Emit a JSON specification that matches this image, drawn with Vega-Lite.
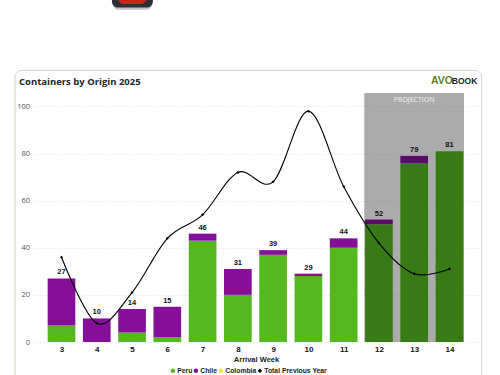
{
"$schema":"https://vega.github.io/schema/vega-lite/v6.json",
"width":445,"height":249,
"autosize":"none",
"padding":{"left":33.5,"top":93,"right":21.5,"bottom":33},
"background":"white",
"view":{"stroke":null},
"title":{"text":"Containers by Origin 2025","anchor":"start","frame":"group","dx":-14.5,"offset":-103,"font":"Open Sans","fontSize":9.5,"fontWeight":"bold","color":"#262626"},
"datasets":{
"stack":[
{"week":3,"origin":"Peru","rank":1,"containers":7},{"week":3,"origin":"Chile","rank":2,"containers":20},
{"week":4,"origin":"Peru","rank":1,"containers":0},{"week":4,"origin":"Chile","rank":2,"containers":10},
{"week":5,"origin":"Peru","rank":1,"containers":4},{"week":5,"origin":"Chile","rank":2,"containers":10},
{"week":6,"origin":"Peru","rank":1,"containers":2},{"week":6,"origin":"Chile","rank":2,"containers":13},
{"week":7,"origin":"Peru","rank":1,"containers":43},{"week":7,"origin":"Chile","rank":2,"containers":3},
{"week":8,"origin":"Peru","rank":1,"containers":20},{"week":8,"origin":"Chile","rank":2,"containers":11},
{"week":9,"origin":"Peru","rank":1,"containers":37},{"week":9,"origin":"Chile","rank":2,"containers":2},
{"week":10,"origin":"Peru","rank":1,"containers":28},{"week":10,"origin":"Chile","rank":2,"containers":1},
{"week":11,"origin":"Peru","rank":1,"containers":40},{"week":11,"origin":"Chile","rank":2,"containers":4},
{"week":12,"origin":"Peru","rank":1,"containers":50},{"week":12,"origin":"Chile","rank":2,"containers":2},
{"week":13,"origin":"Peru","rank":1,"containers":76},{"week":13,"origin":"Chile","rank":2,"containers":3},
{"week":14,"origin":"Peru","rank":1,"containers":81},{"week":14,"origin":"Chile","rank":2,"containers":0}
],
"totals":[
{"week":3,"total":27,"previous":36,"origin":"Total Previous Year"},{"week":4,"total":10,"previous":8,"origin":"Total Previous Year"},
{"week":5,"total":14,"previous":21,"origin":"Total Previous Year"},{"week":6,"total":15,"previous":44,"origin":"Total Previous Year"},
{"week":7,"total":46,"previous":54,"origin":"Total Previous Year"},{"week":8,"total":31,"previous":72,"origin":"Total Previous Year"},
{"week":9,"total":39,"previous":68,"origin":"Total Previous Year"},{"week":10,"total":29,"previous":98,"origin":"Total Previous Year"},
{"week":11,"total":44,"previous":66,"origin":"Total Previous Year"},{"week":12,"total":52,"previous":42,"origin":"Total Previous Year"},
{"week":13,"total":79,"previous":29,"origin":"Total Previous Year"},{"week":14,"total":81,"previous":31,"origin":"Total Previous Year"}
]
},
"layer":[
{"data":{"values":[{"from":1.6815,"to":14.913,"low":-18.3,"high":115.3}]},
 "mark":{"type":"rect","fill":"transparent","stroke":"#c8d8c4","strokeWidth":1,"cornerRadius":7},
 "encoding":{
  "x":{"field":"from","type":"quantitative","scale":{"domain":[2.206,14.823],"nice":false,"zero":false,"padding":0},
    "axis":{"values":[3,4,5,6,7,8,9,10,11,12,13,14],"grid":false,"domain":false,"ticks":false,"labelFont":"Liberation Sans","labelFontWeight":"bold","labelFontSize":8,"labelColor":"#111111","labelPadding":3,"format":"d","title":"Arrival Week","titleFont":"Liberation Sans","titleFontWeight":"bold","titleFontSize":7.5,"titleColor":"#222222","titlePadding":2}},
  "x2":{"field":"to"},
  "y":{"field":"low","type":"quantitative","scale":{"domain":[0,105.7],"nice":false,"padding":0},
    "axis":{"values":[0,20,40,60,80,100],"grid":true,"gridColor":"#dddddd","gridDash":[1,2],"gridWidth":0.8,"domain":false,"ticks":false,"labelFont":"Open Sans","labelFontSize":7.5,"labelColor":"#555555","labelPadding":4,"title":null}},
  "y2":{"field":"high"}}},
{"data":{"name":"stack"},
 "mark":{"type":"bar","width":27.7,"orient":"vertical"},
 "encoding":{
  "x":{"field":"week","type":"quantitative","scale":{"domain":[2.206,14.823],"nice":false,"zero":false,"padding":0}},
  "y":{"field":"containers","type":"quantitative","stack":"zero","scale":{"domain":[0,105.7],"nice":false,"padding":0}},
  "order":{"field":"rank"},
  "color":{"field":"origin","type":"nominal","scale":{"domain":["Peru","Chile","Colombia","Total Previous Year"],"range":["#54b81e","#860f9a","#f5e642","#000000"]},"legend":{"orient":"none","legendX":136,"legendY":274,"direction":"horizontal","title":null,"labelFont":"Liberation Sans","labelFontWeight":"bold","labelFontSize":6.8,"labelColor":"#222222","symbolSize":20,"columnPadding":0,"labelOffset":1,"symbolStrokeWidth":0}}}},
{"data":{"values":[{"from":11.585,"to":14.412,"low":0,"high":105.7}]},
 "mark":{"type":"rect","fill":"#000000","opacity":0.33},
 "encoding":{"x":{"field":"from","type":"quantitative","scale":{"domain":[2.206,14.823],"nice":false,"zero":false,"padding":0}},"x2":{"field":"to"},"y":{"field":"low","type":"quantitative","scale":{"domain":[0,105.7],"nice":false,"padding":0}},"y2":{"field":"high"}}},
{"data":{"name":"totals"},
 "mark":{"type":"line","interpolate":"cardinal","color":"#000000","strokeWidth":1.1},
 "encoding":{"x":{"field":"week","type":"quantitative","scale":{"domain":[2.206,14.823],"nice":false,"zero":false,"padding":0}},"y":{"field":"previous","type":"quantitative","scale":{"domain":[0,105.7],"nice":false,"padding":0}}}},
{"data":{"name":"totals"},
 "mark":{"type":"point","filled":true,"size":9,"opacity":1},
 "encoding":{"x":{"field":"week","type":"quantitative","scale":{"domain":[2.206,14.823],"nice":false,"zero":false,"padding":0}},"y":{"field":"previous","type":"quantitative","scale":{"domain":[0,105.7],"nice":false,"padding":0}},
  "shape":{"field":"origin","type":"nominal","scale":{"domain":["Peru","Chile","Colombia","Total Previous Year"],"range":["circle","circle","circle","diamond"]},"legend":{"orient":"none","legendX":136,"legendY":274,"direction":"horizontal","title":null,"labelFont":"Liberation Sans","labelFontWeight":"bold","labelFontSize":6.8,"labelColor":"#222222","symbolSize":20,"columnPadding":0,"labelOffset":1,"symbolStrokeWidth":0}},
  "color":{"field":"origin","type":"nominal","legend":{"orient":"none","legendX":136,"legendY":274,"direction":"horizontal","title":null,"labelFont":"Liberation Sans","labelFontWeight":"bold","labelFontSize":6.8,"labelColor":"#222222","symbolSize":20,"columnPadding":0,"labelOffset":1,"symbolStrokeWidth":0}}}},
{"data":{"name":"totals"},
 "mark":{"type":"text","font":"Liberation Sans","fontWeight":"bold","fontSize":7.5,"color":"#111111","dy":-6},
 "encoding":{"x":{"field":"week","type":"quantitative","scale":{"domain":[2.206,14.823],"nice":false,"zero":false,"padding":0}},"y":{"field":"total","type":"quantitative","scale":{"domain":[0,105.7],"nice":false,"padding":0}},"text":{"field":"total","type":"quantitative"}}},
{"data":{"values":[{"week":13,"level":102.8,"label":"PROJECTION"}]},
 "mark":{"type":"text","font":"Open Sans","fontSize":7,"color":"#f4f4f4"},
 "encoding":{"x":{"field":"week","type":"quantitative","scale":{"domain":[2.206,14.823],"nice":false,"zero":false,"padding":0}},"y":{"field":"level","type":"quantitative","scale":{"domain":[0,105.7],"nice":false,"padding":0}},"text":{"field":"label"}}},
{"data":{"values":[{"week":14.1,"level":109.5,"label":"AVO"}]},
 "mark":{"type":"text","font":"Liberation Sans","fontWeight":"bold","fontSize":10.5,"color":"#5c7f2a","align":"right","baseline":"alphabetic"},
 "encoding":{"x":{"field":"week","type":"quantitative","scale":{"domain":[2.206,14.823],"nice":false,"zero":false,"padding":0}},"y":{"field":"level","type":"quantitative","scale":{"domain":[0,105.7],"nice":false,"padding":0}},"text":{"field":"label"}}},
{"data":{"values":[{"week":14.79,"level":109.5,"label":"BOOK"}]},
 "mark":{"type":"text","font":"Liberation Sans","fontWeight":"bold","fontSize":8.5,"color":"#1d1d1d","align":"right","baseline":"alphabetic"},
 "encoding":{"x":{"field":"week","type":"quantitative","scale":{"domain":[2.206,14.823],"nice":false,"zero":false,"padding":0}},"y":{"field":"level","type":"quantitative","scale":{"domain":[0,105.7],"nice":false,"padding":0}},"text":{"field":"label"}}},
{"data":{"values":[{"from":4.45,"to":5.57,"low":141,"high":152}]},
 "mark":{"type":"rect","fill":"#777777","opacity":0.45,"cornerRadius":6},
 "encoding":{"x":{"field":"from","type":"quantitative","scale":{"domain":[2.206,14.823],"nice":false,"zero":false,"padding":0}},"x2":{"field":"to"},"y":{"field":"low","type":"quantitative","scale":{"domain":[0,105.7],"nice":false,"padding":0}},"y2":{"field":"high"}}},
{"data":{"values":[{"from":4.43,"to":5.59,"low":142,"high":152}]},
 "mark":{"type":"rect","fill":"#2e2e38","cornerRadius":6},
 "encoding":{"x":{"field":"from","type":"quantitative","scale":{"domain":[2.206,14.823],"nice":false,"zero":false,"padding":0}},"x2":{"field":"to"},"y":{"field":"low","type":"quantitative","scale":{"domain":[0,105.7],"nice":false,"padding":0}},"y2":{"field":"high"}}},
{"data":{"values":[{"from":4.6,"to":5.42,"low":143.5,"high":152}]},
 "mark":{"type":"rect","fill":"#c9261a","cornerRadius":6},
 "encoding":{"x":{"field":"from","type":"quantitative","scale":{"domain":[2.206,14.823],"nice":false,"zero":false,"padding":0}},"x2":{"field":"to"},"y":{"field":"low","type":"quantitative","scale":{"domain":[0,105.7],"nice":false,"padding":0}},"y2":{"field":"high"}}}
]
}
